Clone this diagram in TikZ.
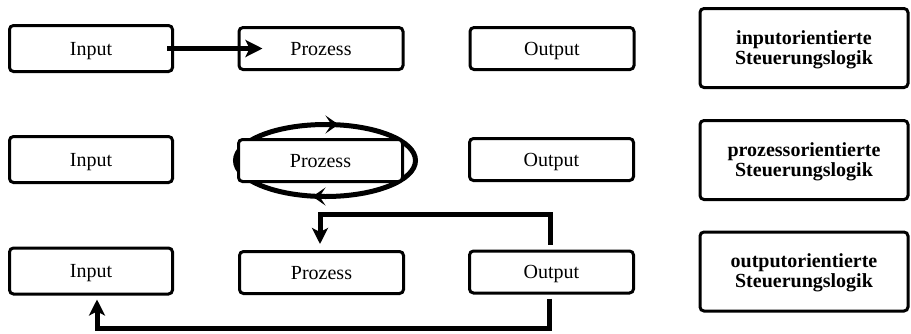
\documentclass[tikz,border=0pt]{standalone}
\usepackage{fontspec}
\setmainfont{Liberation Serif}
\usetikzlibrary{arrows.meta,decorations.markings,backgrounds}
\begin{document}
\begin{tikzpicture}[x=1pt,y=-1pt,
  box/.style={draw, line width=3pt, rounded corners=4pt, fill=white, inner sep=0pt,
    font=\fontsize{20}{20}\selectfont, text height=13pt, text depth=0pt},
  inbox/.style={box, minimum width=163pt, minimum height=46pt},
  stdbox/.style={box, minimum width=164pt, minimum height=42pt},
  logicbox/.style={box, minimum width=208pt, minimum height=79pt, align=center,
    font=\fontsize{20}{20}\selectfont\bfseries, text height=33.6pt, text depth=1pt},
  flow/.style={line width=5pt, -{Stealth[length=17pt,width=17pt,inset=4pt]}},
  feedback/.style={line width=5pt, line join=miter, -{Stealth[length=16pt,width=16pt,inset=4pt]}},
  cycle arrows/.style={line width=5pt,
    decoration={markings,
      mark=at position 0.25 with {\arrow{Stealth[reversed,length=13pt,width=18pt,inset=6pt]}},
      mark=at position 0.75 with {\arrow{Stealth[reversed,length=13pt,width=18pt,inset=6pt]}}},
    postaction={decorate}}
]
\useasboundingbox (0,0) rectangle (911,333);

% input-oriented row
\node[inbox]  (in1) at (91,48.5)  {Input};
\node[stdbox] (pr1) at (321,48.5) {Prozess};
\node[stdbox] (ou1) at (552,48.5) {Output};

% process-oriented row
\node[inbox]  (in2) at (91,159.5)    {Input};
\node[stdbox] (pr2) at (320.5,160.5) {Prozess};
\node[stdbox] (ou2) at (551.5,159.5) {Output};

% output-oriented row
\node[inbox]  (in3) at (91,271)      {Input};
\node[stdbox] (pr3) at (321.5,272.5) {Prozess};
\node[stdbox] (ou3) at (551.5,272)   {Output};

% captions
\node[logicbox] (r1) at (804,48)    {inputorientierte\\Steuerungslogik};
\node[logicbox] (r2) at (804,160)   {prozessorientierte\\Steuerungslogik};
\node[logicbox] (r3) at (804,271.5) {outputorientierte\\Steuerungslogik};

% input pushes the process
\draw[flow] ([xshift=-7pt]in1.east) -- ([xshift=25pt]pr1.west);

% process runs in its own cycle
\begin{scope}[on background layer]
  \draw[cycle arrows] ([xshift=5pt]pr2.center) ellipse [x radius=90pt, y radius=36pt];
\end{scope}

% output pulls back to process and input
\draw[feedback] ([xshift=-1.5pt,yshift=5pt]ou3.north) -- ++(0,-30)
  -| ([xshift=-1.5pt,yshift=6pt]pr3.north);
\draw[feedback] ([xshift=-2.5pt,yshift=-4pt]ou3.south) -- ++(0,30)
  -| ([xshift=6pt,yshift=-4pt]in3.south);
\end{tikzpicture}
\end{document}
